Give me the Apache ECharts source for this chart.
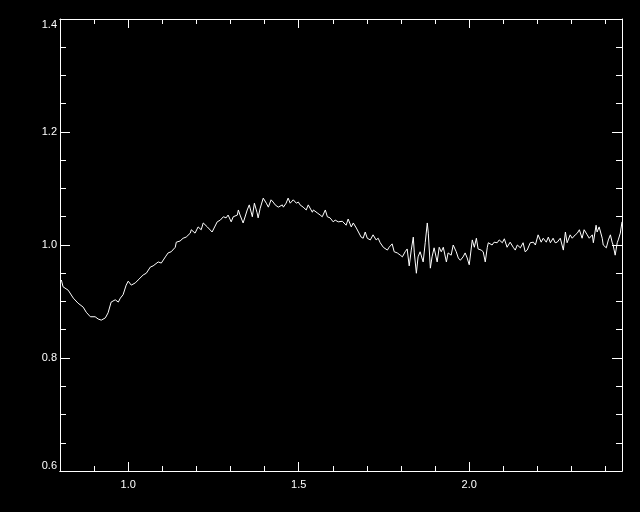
<!DOCTYPE html>
<html>
<head>
<meta charset="utf-8">
<script src="https://cdn.jsdelivr.net/npm/echarts@6/dist/echarts.min.js"></script>
<style>
html,body{margin:0;padding:0;background:#000;}
#chart{width:640px;height:512px;}
</style>
</head>
<body>
<div id="chart"></div>
<script>
// Wavelength-like x values
const xValues = [
0.804,0.809,0.824,0.839,0.853,0.868,0.877,0.889,0.903,0.912,0.921,0.933,0.941,0.950,0.962,0.971,0.977,0.985,0.994,1.000,
1.009,1.021,1.029,1.044,1.053,1.065,1.073,1.088,1.097,1.109,1.117,1.126,1.138,1.141,1.152,1.161,1.170,1.182,1.185,1.196,
1.205,1.214,1.220,1.232,1.235,1.246,1.249,1.261,1.270,1.279,1.287,1.293,1.302,1.308,1.320,1.323,1.328,1.337,1.349,1.355,
1.364,1.370,1.378,1.381,1.387,1.396,1.405,1.411,1.419,1.425,1.431,1.440,1.452,1.455,1.463,1.469,1.475,1.484,1.493,1.499,
1.504,1.513,1.522,1.528,1.540,1.543,1.554,1.563,1.569,1.578,1.584,1.592,1.601,1.607,1.616,1.628,1.633,1.639,1.645,1.654,
1.660,1.669,1.674,1.683,1.689,1.695,1.701,1.710,1.718,1.727,1.733,1.739,1.748,1.760,1.765,1.774,1.780,1.789,1.798,1.804,
1.812,1.818,1.824,1.830,1.836,1.839,1.845,1.850,1.856,1.865,1.871,1.877,1.880,1.886,1.891,1.897,1.906,1.912,1.918,1.924,
1.933,1.938,1.947,1.953,1.962,1.968,1.974,1.982,1.988,1.994,2.000,2.009,2.015,2.021,2.026,2.035,2.041,2.047,2.053,2.056,
2.067,2.073,2.082,2.088,2.097,2.103,2.111,2.120,2.129,2.135,2.141,2.150,2.158,2.164,2.170,2.179,2.188,2.194,2.202,2.211,
2.217,2.226,2.232,2.238,2.246,2.252,2.258,2.267,2.276,2.282,2.287,2.296,2.302,2.311,2.317,2.323,2.331,2.337,2.346,2.352,
2.361,2.364,2.372,2.375,2.381,2.390,2.393,2.402,2.408,2.414,2.419,2.422,2.428,2.434,2.437,2.443,2.448
];
// Ratio values
const yValues = [
0.938,0.926,0.920,0.906,0.897,0.890,0.881,0.873,0.873,0.869,0.867,0.871,0.880,0.899,0.903,0.899,0.906,0.912,0.929,0.936,
0.929,0.933,0.938,0.947,0.950,0.961,0.963,0.970,0.968,0.979,0.986,0.988,0.996,1.005,1.007,1.012,1.014,1.021,1.027,1.021,
1.032,1.027,1.039,1.032,1.035,1.023,1.021,1.041,1.044,1.050,1.048,1.053,1.041,1.050,1.053,1.062,1.053,1.039,1.062,1.071,
1.050,1.074,1.057,1.048,1.065,1.083,1.074,1.067,1.080,1.076,1.071,1.067,1.071,1.067,1.074,1.083,1.074,1.080,1.074,1.076,
1.071,1.067,1.062,1.071,1.058,1.062,1.057,1.053,1.050,1.062,1.050,1.048,1.041,1.044,1.041,1.042,1.039,1.035,1.046,1.032,
1.039,1.030,1.032,1.014,1.012,1.023,1.012,1.009,1.018,1.009,1.012,1.004,0.996,0.991,0.996,1.002,0.988,0.986,0.982,0.979,
0.988,0.993,0.963,0.991,1.014,0.986,0.950,0.979,0.988,0.970,1.004,1.039,1.021,0.959,0.979,0.995,0.970,0.996,0.988,0.996,
0.970,0.986,0.982,1.000,0.988,0.977,0.973,0.979,0.986,0.977,0.965,1.009,0.996,1.012,0.993,0.991,0.988,0.970,0.996,1.004,
1.000,1.005,1.004,1.009,1.004,1.011,0.996,1.005,0.996,0.991,1.000,0.995,1.004,0.988,0.991,1.004,1.005,1.000,1.018,1.005,
1.012,1.005,1.014,1.004,1.012,1.004,1.005,1.012,0.991,1.023,1.004,1.018,1.012,1.018,1.021,1.027,1.012,1.027,1.018,1.012,
1.018,1.004,1.035,1.023,1.032,1.012,1.000,0.995,1.009,1.018,1.005,1.000,0.982,1.004,1.009,1.021,1.041
];
const xMajorTicks = [1.0, 1.5, 2.0];
const xMin = 0.8, xMax = 2.448;
const yMin = 0.6, yMax = 1.4;

const seriesData = xValues.map((x, i) => [x, yValues[i]]);

const white = '#ffffff';
const font = {color: white, fontFamily: 'Liberation Sans, Arial, sans-serif', fontSize: 11};

function xAxisDef(position, major, labels) {
  return {
    type: 'value', position: position, min: xMin, max: xMax,
    interval: major ? undefined : 0.1,
    splitLine: {show: false},
    axisLine: {show: true, onZero: false, lineStyle: {color: white, width: 1}},
    axisTick: major
      ? {show: true, inside: true, length: 9, lineStyle: {color: white}, customValues: xMajorTicks}
      : {show: true, inside: true, length: 5, lineStyle: {color: white}},
    axisLabel: labels
      ? Object.assign({show: true, margin: 8, customValues: xMajorTicks, formatter: v => v.toFixed(1)}, font)
      : {show: false}
  };
}
function yAxisDef(position, labels) {
  return {
    type: 'value', position: position, min: yMin, max: yMax, interval: 0.2,
    splitLine: {show: false},
    axisLine: {show: true, onZero: false, lineStyle: {color: white, width: 1}},
    axisTick: {show: true, inside: true, length: 10, lineStyle: {color: white}},
    minorTick: {show: true, splitNumber: 4, length: 6, lineStyle: {color: white}},
    minorSplitLine: {show: false},
    axisLabel: labels
      ? Object.assign({show: true, margin: 3, formatter: v => v.toFixed(1),
          verticalAlignMinLabel: 'bottom', verticalAlignMaxLabel: 'top'}, font)
      : {show: false}
  };
}

const chart = echarts.init(document.getElementById('chart'), null, {renderer: 'canvas'});
chart.setOption({
  backgroundColor: '#000000',
  animation: false,
  grid: {left: 60, right: 18, top: 19, bottom: 41, containLabel: false},
  xAxis: [
    xAxisDef('bottom', true, true),
    xAxisDef('bottom', false, false),
    xAxisDef('top', true, false),
    xAxisDef('top', false, false)
  ],
  yAxis: [
    yAxisDef('left', true),
    yAxisDef('right', false)
  ],
  series: [{
    type: 'line',
    xAxisIndex: 0, yAxisIndex: 0,
    data: seriesData,
    showSymbol: false,
    symbol: 'none',
    lineStyle: {color: white, width: 1},
    clip: true
  }]
});
</script>
</body>
</html>
